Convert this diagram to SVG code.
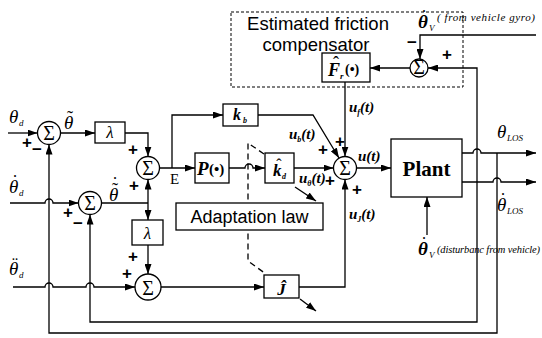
<svg xmlns="http://www.w3.org/2000/svg" width="542" height="338" viewBox="0 0 542 338">
<defs>
<marker id="ah" markerWidth="10" markerHeight="7" refX="10" refY="3.5" orient="auto" markerUnits="userSpaceOnUse"><path d="M0,0 L10,3.5 L0,7 z" fill="#000"/></marker>
</defs>
<style>
.ln{fill:none;stroke:#000;stroke-width:1.3}
.ar{marker-end:url(#ah)}
.bx{fill:#fff;stroke:#000;stroke-width:1.3}
.dash{fill:none;stroke:#000;stroke-width:1.3;stroke-dasharray:6,4}
.dbox{fill:none;stroke:#000;stroke-width:1;stroke-dasharray:3,2}
text{fill:#000}
.sig{font-family:"Liberation Serif",serif;font-size:20px;text-anchor:middle}
.m{font-family:"Liberation Serif",serif;font-style:italic}
.b{font-weight:bold}
.sn{font-family:"Liberation Sans",Arial,sans-serif}
.pm{font-family:"Liberation Sans",Arial,sans-serif;font-weight:bold;font-size:17px;text-anchor:middle}
.acc{font-family:"Liberation Serif",serif;text-anchor:middle}
</style>
<rect width="542" height="338" fill="#fff"/>

<g id="friction-compensator">
<rect class="dbox" x="231" y="12" width="232" height="75"/>
<text class="sn" x="318" y="30" font-size="18.5" text-anchor="middle">Estimated friction</text>
<text class="sn" x="316" y="51" font-size="18.5" text-anchor="middle">compensator</text>
</g>

<g id="connectors">
<path class="ln ar" d="M8,133 H37.5"/>
<path class="ln ar" d="M60.5,133 H95"/>
<path class="ln ar" d="M125,133 H148 V156.5"/>
<path class="ln ar" d="M10,203 H45 A4,4 0 0 1 53,203 H78.5"/>
<path class="ln" d="M101.5,203 H148"/>
<path class="ln ar" d="M148,203 V179.5"/>
<path class="ln ar" d="M148,203 V220"/>
<path class="ln ar" d="M148,245 V274"/>
<path class="ln ar" d="M13,287 H45 A4,4 0 0 1 53,287 H86 A4,4 0 0 1 94,287 H135"/>
<path class="ln ar" d="M161,287 H264"/>
<path class="ln ar" d="M299,287 H345 V179.5"/>
<path class="ln ar" d="M159.5,168 H195"/>
<path class="ln ar" d="M172,168 V115 H223"/>
<path class="ln ar" d="M229,168 H245 A4,4 0 0 1 253,168 H265"/>
<path class="ln ar" d="M294,168 H333.5"/>
<path class="ln ar" d="M258,115 H313 L339,158"/>
<path class="ln ar" d="M345,82 V156.5"/>
<path class="ln ar" d="M356.5,168 H391"/>
<path class="ln ar" d="M427,235 V197"/>
<path class="ln ar" d="M462,153 H473 A4,4 0 0 1 481,153 H536"/>
<path class="ln ar" d="M462,182 H493 A4,4 0 0 1 501,182 H536"/>
<path class="ln ar" d="M477,182 V68 H428"/>
<path class="ln ar" d="M477,182 V322 H90 V214.5"/>
<path class="ln ar" d="M497,153 V333 H49 V144.5"/>
<path class="ln ar" d="M410,68 H370"/>
<path class="ln ar" d="M536,35 H420 V59"/>
<path class="dash" d="M264,154 L248,143 V261 L266,274"/>
<path class="ln ar" d="M295,187 L316,201"/>
<path class="ln ar" d="M300,299 L316,311"/>
</g>

<g id="sum1"><circle class="bx" cx="49" cy="133" r="11.5"/><text class="sig" x="49" y="140">Σ</text></g>
<g id="sum2"><circle class="bx" cx="90" cy="203" r="11.5"/><text class="sig" x="90" y="210">Σ</text></g>
<g id="sumE"><circle class="bx" cx="148" cy="168" r="11.5"/><text class="sig" x="148" y="175">Σ</text></g>
<g id="sum3"><circle class="bx" cx="148" cy="287" r="13"/><text class="sig" x="148" y="295" font-size="22">Σ</text></g>
<g id="sumMain"><circle class="bx" cx="345" cy="168" r="11.5"/><text class="sig" x="345" y="175">Σ</text></g>
<g id="sumF"><circle class="bx" cx="419" cy="68" r="9"/><text class="sig" x="419" y="74" font-size="16">Σ</text></g>

<g id="lambda1"><rect class="bx" x="95" y="122" width="30" height="21"/><text class="m" x="110" y="138" font-size="17" text-anchor="middle">λ</text></g>
<g id="lambda2"><rect class="bx" x="132" y="220" width="31" height="25"/><text class="m" x="147.5" y="239" font-size="17" text-anchor="middle">λ</text></g>
<g id="P"><rect class="bx" x="195" y="153" width="34" height="30"/><text class="m b" x="197" y="175" font-size="19">P</text><text class="b" x="209" y="174" font-size="15" font-family="Liberation Serif, serif">(•)</text></g>
<g id="kd"><rect class="bx" x="265" y="153" width="29" height="30"/><text class="m b" x="273" y="176" font-size="17">k</text><text class="acc" x="279" y="170" font-size="16">ˆ</text><text class="m b" x="282" y="179" font-size="8">d</text></g>
<g id="kb"><rect class="bx" x="223" y="104" width="35" height="22"/><text class="m b" x="233" y="120" font-size="16">k</text><text class="m b" x="243" y="123" font-size="8">b</text></g>
<g id="J"><rect class="bx" x="264" y="275" width="35" height="23"/><text class="m b" x="281.5" y="295" font-size="17" text-anchor="middle">Ĵ</text></g>
<g id="Fr"><rect class="bx" x="322" y="53" width="48" height="29"/><text class="m b" x="328" y="76" font-size="18">F</text><text class="acc" x="336" y="69" font-size="18">ˆ</text><text class="m b" x="340" y="79" font-size="9">r</text><text class="b" x="345" y="74" font-size="14" font-family="Liberation Serif, serif">(•)</text></g>
<g id="plant"><rect class="bx" x="391" y="139" width="71" height="58"/><text x="426.5" y="176" font-size="21" font-weight="bold" font-family="Liberation Serif, serif" text-anchor="middle">Plant</text></g>
<g id="adaptation"><rect class="bx" x="176" y="203" width="147" height="27"/><text class="sn" x="249.5" y="223" font-size="18" text-anchor="middle">Adaptation law</text></g>

<g id="labels">
<text class="m" x="9" y="123" font-size="19">θ</text><text class="m" x="19" y="126" font-size="9">d</text>
<text class="m" x="64" y="129" font-size="19">θ</text><text class="acc" x="70" y="124" font-size="18">˜</text>
<text class="m" x="9" y="193" font-size="19">θ</text><text class="acc" x="15" y="188" font-size="18">˙</text><text class="m" x="19" y="196" font-size="9">d</text>
<text class="m" x="9" y="275" font-size="19">θ</text><text class="acc" x="15" y="270" font-size="18">¨</text><text class="m" x="19" y="278" font-size="9">d</text>
<text class="m" x="109" y="201" font-size="19">θ</text><text class="acc" x="115" y="196" font-size="18">˜</text><text class="acc" x="115" y="190" font-size="18">˙</text>
<text x="170" y="184" font-size="15" font-family="Liberation Serif, serif">E</text>
<text class="m b" x="289" y="139" font-size="15">u<tspan font-size="8" dy="3">b</tspan><tspan dy="-3">(t)</tspan></text>
<text class="m b" x="349" y="112" font-size="15">u<tspan font-size="8" dy="3">f</tspan><tspan dy="-3">(t)</tspan></text>
<text class="m b" x="299" y="183" font-size="15">u<tspan font-size="8" dy="3">θ</tspan><tspan dy="-3">(t)</tspan></text>
<text class="m b" x="358" y="161" font-size="15">u(t)</text>
<text class="m b" x="349" y="219" font-size="15">u<tspan font-size="8" dy="3">J</tspan><tspan dy="-3">(t)</tspan></text>
<text class="m" x="497" y="138" font-size="19">θ</text><text class="m" x="507" y="141" font-size="9">LOS</text>
<text class="m" x="497" y="211" font-size="19">θ</text><text class="acc" x="503" y="206" font-size="18">˙</text><text class="m" x="507" y="214" font-size="9">LOS</text>
<text class="m b" x="418" y="28" font-size="19">θ</text><text class="acc" x="424" y="23" font-size="18">˙</text><text class="m" x="429" y="31" font-size="9">V</text>
<text class="m" x="437" y="21" font-size="11" textLength="98">( from vehicle gyro)</text>
<text class="m b" x="418" y="255" font-size="19">θ</text><text class="acc" x="424" y="250" font-size="18">˙</text><text class="m" x="429" y="258" font-size="9">V</text>
<text class="m" x="437" y="253" font-size="10.5" textLength="103">(disturbanc from vehicle)</text>
<text class="pm" x="27" y="148">+</text><text class="pm" x="37" y="155">−</text>
<text class="pm" x="68" y="218">+</text><text class="pm" x="78" y="229">−</text>
<text class="pm" x="133" y="155">+</text><text class="pm" x="134" y="191">+</text>
<text class="pm" x="133" y="262">+</text><text class="pm" x="127" y="279">+</text>
<text class="pm" x="323" y="155">+</text><text class="pm" x="340" y="147">+</text>
<text class="pm" x="330" y="186">+</text><text class="pm" x="357" y="195">+</text>
<text class="pm" x="412" y="48">−</text><text class="pm" x="447" y="60">+</text>
</g>
</svg>
